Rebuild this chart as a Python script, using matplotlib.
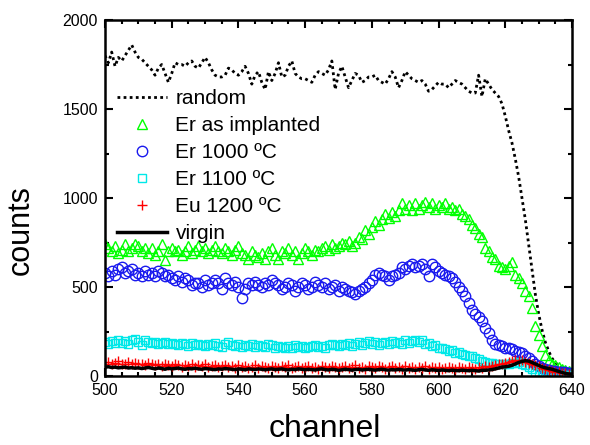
#rbs_spectra.py

#RBS/channeling spectra: random, virgin and Er/Eu implanted samples

import numpy as np;
import matplotlib.pyplot as plt;
from matplotlib.ticker import MultipleLocator;

plt.rcParams['font.family'] = ['Liberation Sans', 'DejaVu Sans'];

channel = np.arange(500, 641);

random = [1800, 1760, 1820, 1740, 1790, 1770, 1800, 1830, 1860, 1820,
          1790, 1780, 1760, 1740, 1720, 1690, 1730, 1750, 1700, 1650,
          1700, 1760, 1750, 1750, 1740, 1760, 1770, 1740, 1730, 1760,
          1790, 1760, 1720, 1690, 1680, 1680, 1690, 1730, 1720, 1700,
          1690, 1710, 1740, 1700, 1640, 1690, 1710, 1650, 1610, 1710,
          1660, 1700, 1760, 1680, 1690, 1740, 1770, 1700, 1680, 1670,
          1670, 1660, 1650, 1690, 1710, 1700, 1690, 1720, 1770, 1610,
          1700, 1740, 1680, 1620, 1660, 1700, 1690, 1650, 1660, 1680,
          1680, 1690, 1660, 1650, 1640, 1670, 1710, 1680, 1620, 1660,
          1710, 1690, 1670, 1660, 1650, 1660, 1640, 1600, 1610, 1630,
          1650, 1640, 1640, 1620, 1640, 1660, 1650, 1640, 1620, 1600,
          1590, 1590, 1690, 1570, 1670, 1640, 1610, 1590, 1570, 1530,
          1460, 1380, 1310, 1220, 1120, 1000, 880, 740, 600, 460,
          350, 260, 190, 140, 100, 75, 60, 45, 40, 35,
          30];

er_impl = [740, 720, 700, 730, 690, 710, 740, 700, 720, 740,
           730, 700, 720, 690, 720, 680, 700, 740, 650, 700,
           720, 700, 710, 680, 700, 730, 690, 710, 730, 700,
           720, 690, 710, 730, 700, 690, 720, 700, 680, 710,
           730, 690, 680, 660, 700, 680, 670, 690, 660, 700,
           720, 680, 660, 700, 690, 720, 680, 700, 660, 690,
           720, 700, 680, 710, 700, 720, 730, 710, 740, 720,
           730, 750, 740, 760, 730, 750, 780, 770, 820, 800,
           840, 870, 850, 880, 910, 890, 920, 900, 930, 970,
           940, 960, 930, 970, 940, 960, 980, 950, 970, 940,
           960, 950, 970, 940, 950, 930, 940, 910, 900, 880,
           850, 830, 800, 780, 720, 700, 670, 660, 620, 610,
           600, 620, 640, 570, 550, 520, 480, 450, 380, 280,
           230, 170, 120, 90, 70, 60, 50, 40, 35, 30,
           25];

er_1000 = [580, 560, 590, 570, 600, 610, 580, 590, 600, 570,
           580, 560, 590, 570, 580, 560, 590, 580, 560, 570,
           550, 540, 560, 530, 550, 540, 510, 520, 520, 500,
           540, 510, 520, 540, 520, 490, 550, 520, 510, 530,
           500, 440, 490, 520, 510, 530, 510, 500, 520, 510,
           540, 520, 510, 490, 500, 520, 510, 480, 500, 520,
           510, 490, 500, 530, 510, 500, 520, 490, 500, 510,
           480, 500, 490, 480, 470, 460, 480, 490, 500, 520,
           540, 570, 580, 570, 560, 540, 560, 570, 580, 610,
           600, 620, 630, 610, 620, 630, 600, 560, 630, 610,
           590, 580, 570, 560, 550, 530, 500, 480, 450, 410,
           370, 350, 330, 310, 270, 240, 200, 180, 175, 170,
           160, 155, 150, 140, 135, 130, 115, 100, 85, 70,
           55, 45, 38, 33, 30, 28, 25, 22, 20, 17,
           15];

er_1100 = [190, 180, 195, 185, 200, 185, 195, 180, 200, 210,
           190, 175, 200, 190, 185, 190, 180, 185, 190, 180,
           185, 180, 175, 185, 180, 170, 185, 175, 180, 175,
           170, 180, 175, 185, 170, 165, 180, 190, 175, 170,
           180, 165, 175, 170, 180, 165, 175, 170, 165, 180,
           175, 160, 170, 165, 155, 170, 160, 175, 165, 170,
           160, 165, 170, 175, 165, 170, 160, 175, 180, 175,
           170, 180, 175, 185, 170, 180, 190, 175, 185, 195,
           180, 190, 175, 185, 190, 180, 195, 185, 190, 180,
           200, 185, 195, 205, 190, 200, 180, 185, 170, 175,
           160, 155, 150, 140, 145, 130, 135, 125, 120, 115,
           110, 100, 95, 85, 80, 75, 72, 70, 68, 66,
           68, 70, 72, 75, 78, 70, 60, 50, 40, 25,
           15, 10, 8, 6, 5, 5, 4, 4, 3, 3,
           3];

eu_1200 = [70, 80, 65, 75, 85, 70, 65, 80, 70, 75,
           65, 70, 60, 75, 65, 60, 70, 55, 65, 60,
           55, 65, 60, 50, 60, 55, 65, 50, 60, 55,
           65, 50, 55, 60, 50, 55, 60, 50, 55, 45,
           60, 50, 55, 45, 50, 60, 45, 55, 50, 45,
           55, 50, 45, 55, 50, 60, 45, 50, 55, 45,
           50, 55, 45, 50, 40, 55, 50, 45, 55, 50,
           45, 50, 55, 45, 50, 60, 45, 50, 40, 55,
           50, 45, 55, 50, 40, 50, 55, 45, 50, 40,
           55, 45, 50, 40, 50, 45, 55, 40, 50, 45,
           50, 40, 45, 50, 45, 40, 50, 45, 40, 50,
           45, 40, 50, 45, 55, 50, 55, 60, 65, 70,
           75, 80, 85, 90, 85, 90, 80, 75, 70, 60,
           55, 45, 40, 35, 30, 25, 20, 18, 15, 12,
           10];

virgin = [50, 52, 48, 50, 46, 48, 50, 45, 47, 44,
          46, 42, 45, 48, 44, 40, 45, 42, 38, 44,
          40, 42, 45, 40, 38, 42, 40, 44, 40, 38,
          42, 40, 38, 36, 40, 38, 42, 40, 38, 36,
          40, 38, 35, 40, 38, 36, 40, 38, 35, 38,
          40, 36, 38, 40, 36, 34, 38, 36, 40, 38,
          35, 38, 36, 34, 38, 40, 36, 34, 38, 36,
          32, 35, 38, 36, 33, 36, 38, 34, 36, 38,
          35, 33, 36, 38, 35, 33, 36, 34, 37, 35,
          33, 36, 34, 32, 35, 37, 34, 32, 35, 33,
          31, 34, 32, 30, 33, 31, 30, 33, 31, 30,
          32, 30, 28, 32, 32, 34, 36, 40, 45, 50,
          52, 55, 60, 68, 76, 82, 86, 84, 76, 68,
          60, 52, 46, 42, 38, 32, 26, 20, 15, 12,
          10];

fig = plt.figure(figsize=(5.9, 4.45), dpi=100);
ax = fig.add_axes([0.178, 0.155, 0.7915, 0.800]);

ax.plot(channel, random, color='black', linestyle=(0, (1, 1.2)), linewidth=2.0, label='random');
ax.plot(channel, er_impl, linestyle='none', marker='^', markersize=7.5, markerfacecolor='none',
        markeredgecolor='#00ff00', markeredgewidth=1.0, label='Er as implanted');
ax.plot(channel, er_1000, linestyle='none', marker='o', markersize=7.5, markerfacecolor='none',
        markeredgecolor='#1a1aee', markeredgewidth=1.0, label='Er 1000 ºC');
ax.plot(channel, er_1100, linestyle='none', marker='s', markersize=6, markerfacecolor='none',
        markeredgecolor='#00e8e8', markeredgewidth=1.0, label='Er 1100 ºC');
ax.plot(channel, eu_1200, linestyle='none', marker='+', markersize=7, color='red',
        markeredgewidth=1.0, label='Eu 1200 ºC');
ax.plot(channel, virgin, color='black', linewidth=2.5, label='virgin');

ax.set_xlim(500, 640);
ax.set_ylim(0, 2000);
ax.xaxis.set_major_locator(MultipleLocator(20));
ax.xaxis.set_minor_locator(MultipleLocator(5));
ax.yaxis.set_major_locator(MultipleLocator(500));
ax.yaxis.set_minor_locator(MultipleLocator(250));
ax.tick_params(which='both', direction='in', top=True, right=True, width=1.5, labelsize=11.5);
ax.tick_params(which='major', length=6, pad=5);
ax.tick_params(which='minor', length=3);
for sp in ax.spines.values():
    sp.set_linewidth(1.8);

ax.set_xlabel('channel', fontsize=23);
ax.set_ylabel('counts', fontsize=22);
ax.xaxis.set_label_coords(0.47, -0.107);
ax.yaxis.set_label_coords(-0.148, 0.41);

ax.legend(loc='upper left', bbox_to_anchor=(0.026, 0.805), frameon=False, fontsize=15,
          borderaxespad=0, borderpad=0, handlelength=2.4, handletextpad=0.4,
          labelspacing=0.38, numpoints=1);

fig.savefig('out.png', dpi=100);
